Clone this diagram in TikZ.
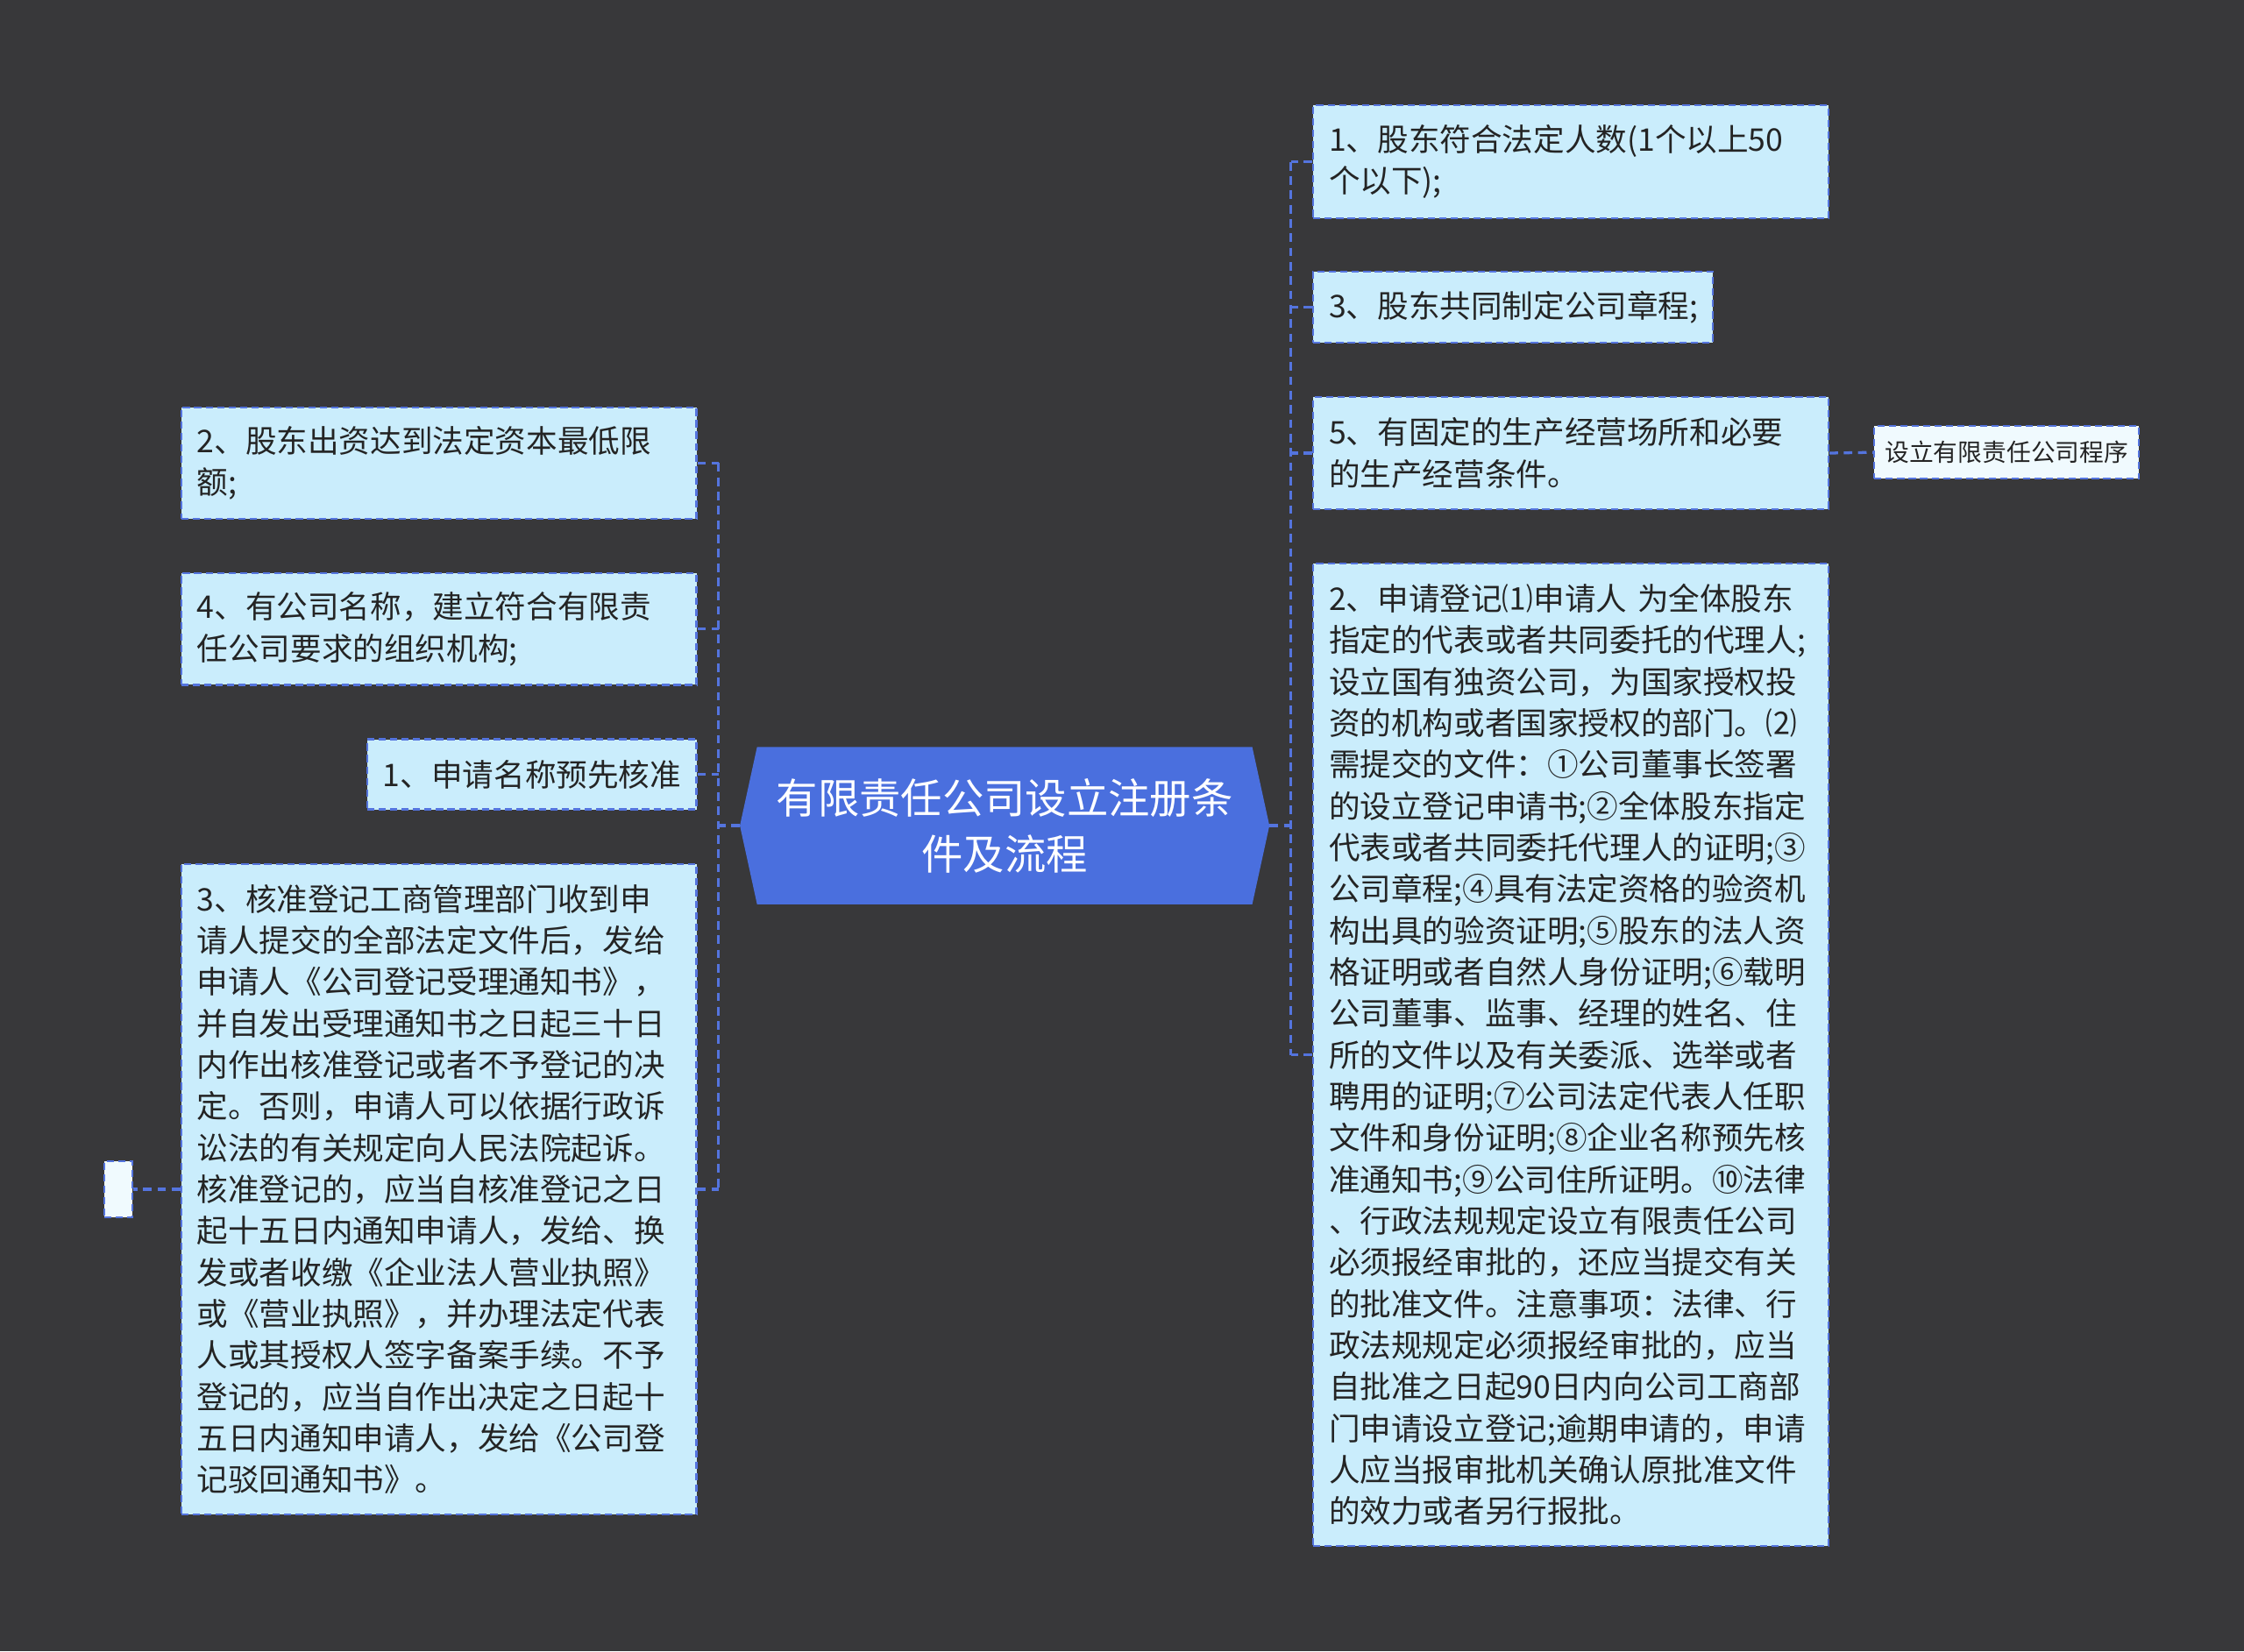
\documentclass[tikz,border=0pt]{standalone}
\usepackage{fontspec}
\setmainfont{Noto Sans CJK SC}
\definecolor{bg}{RGB}{56,56,58}
\definecolor{lineblue}{RGB}{84,116,222}
\definecolor{boxfill}{RGB}{202,237,252}
\definecolor{smallfill}{RGB}{240,250,254}
\definecolor{centerblue}{RGB}{74,111,222}
\definecolor{txt}{RGB}{36,36,36}
\tikzset{
  box/.style={draw=lineblue, line width=1.3pt, dash pattern=on 5pt off 3pt, fill=boxfill,
    anchor=north west, inner xsep=11pt, inner ysep=0pt, align=left, text=txt,
    font=\fontsize{21.8pt}{29pt}\selectfont},
  smallbox/.style={draw=lineblue, line width=1.3pt, dash pattern=on 5pt off 3pt, fill=smallfill,
    anchor=north west, inner sep=0pt, text=txt, font=\fontsize{17pt}{20pt}\selectfont},
  conn/.style={draw=lineblue, line width=2pt, dash pattern=on 6pt off 4pt},
}
\begin{document}
\begin{tikzpicture}[x=1pt,y=-1pt]
\fill[bg] (0,0) rectangle (1568,1154);
\useasboundingbox (0,0) rectangle (1568,1154);

% central node
\fill[centerblue] (517,577) -- (529,522) -- (875,522) -- (887,577) -- (875,632) -- (529,632) -- cycle;
\node[text=white, align=center, font=\fontsize{29pt}{39pt}\selectfont] (c) at (702,577) {有限责任公司设立注册条\\件及流程};
\coordinate (cw) at (517,577);
\coordinate (ce) at (887,577);
\coordinate (tl) at (502,577);
\coordinate (tr) at (902,577);

% left nodes
\node[box, text width=338pt, minimum height=78pt] (L2) at (126,284) {2、股东出资达到法定资本最低限\\额;};
\node[box, text width=338pt, minimum height=78pt] (L4) at (126,400) {4、有公司名称，建立符合有限责\\任公司要求的组织机构;};
\node[box, text width=208pt, minimum height=49pt] (L1) at (256,516) {1、申请名称预先核准};
\node[box, text width=338pt, minimum height=455pt] (L3) at (126,603) {3、核准登记工商管理部门收到申\\请人提交的全部法定文件后，发给\\申请人《公司登记受理通知书》，\\并自发出受理通知书之日起三十日\\内作出核准登记或者不予登记的决\\定。否则，申请人可以依据行政诉\\讼法的有关规定向人民法院起诉。\\核准登记的，应当自核准登记之日\\起十五日内通知申请人，发给、换\\发或者收缴《企业法人营业执照》\\或《营业执照》，并办理法定代表\\人或其授权人签字备案手续。不予\\登记的，应当自作出决定之日起十\\五日内通知申请人，发给《公司登\\记驳回通知书》。};
\node[smallbox, minimum width=20pt, minimum height=39pt] (E) at (72,811) {};

% right nodes
\node[box, text width=338pt, minimum height=79pt] (R1) at (917,73) {1、股东符合法定人数(1个以上50\\个以下);};
\node[box, text width=257pt, minimum height=50pt] (R3) at (917,189) {3、股东共同制定公司章程;};
\node[box, text width=338pt, minimum height=78pt] (R5) at (917,277) {5、有固定的生产经营场所和必要\\的生产经营条件。};
\node[box, text width=338pt, minimum height=687pt] (R2) at (917,393) {2、申请登记⑴申请人 为全体股东\\指定的代表或者共同委托的代理人;\\设立国有独资公司，为国家授权投\\资的机构或者国家授权的部门。⑵\\需提交的文件：①公司董事长签署\\的设立登记申请书;②全体股东指定\\代表或者共同委托代理人的证明;③\\公司章程;④具有法定资格的验资机\\构出具的验资证明;⑤股东的法人资\\格证明或者自然人身份证明;⑥载明\\公司董事、监事、经理的姓名、住\\所的文件以及有关委派、选举或者\\聘用的证明;⑦公司法定代表人任职\\文件和身份证明;⑧企业名称预先核\\准通知书;⑨公司住所证明。⑩法律\\、行政法规规定设立有限责任公司\\必须报经审批的，还应当提交有关\\的批准文件。注意事项：法律、行\\政法规规定必须报经审批的，应当\\自批准之日起90日内向公司工商部\\门申请设立登记;逾期申请的，申请\\人应当报审批机关确认原批准文件\\的效力或者另行报批。};
\node[smallbox, minimum width=185pt, minimum height=37pt] (RS) at (1309,297) {设立有限责任公司程序};

% left connectors
\draw[conn] (cw) -- (tl);
\draw[conn] (tl |- L2.east) -- (tl |- L3.east);
\draw[conn] (L2.east) -- (tl |- L2.east);
\draw[conn] (L4.east) -- (tl |- L4.east);
\draw[conn] (L1.east) -- (tl |- L1.east);
\draw[conn] (L3.east) -- (tl |- L3.east);
\draw[conn] (L3.west) -- (E.east);

% right connectors
\draw[conn] (ce) -- (tr);
\draw[conn] (tr |- R1.west) -- (tr |- R2.west);
\draw[conn] (R1.west) -- (tr |- R1.west);
\draw[conn] (R3.west) -- (tr |- R3.west);
\draw[conn] (R5.west) -- (tr |- R5.west);
\draw[conn] (R2.west) -- (tr |- R2.west);
\draw[conn] (R5.east) -- (RS.west);
\end{tikzpicture}
\end{document}
